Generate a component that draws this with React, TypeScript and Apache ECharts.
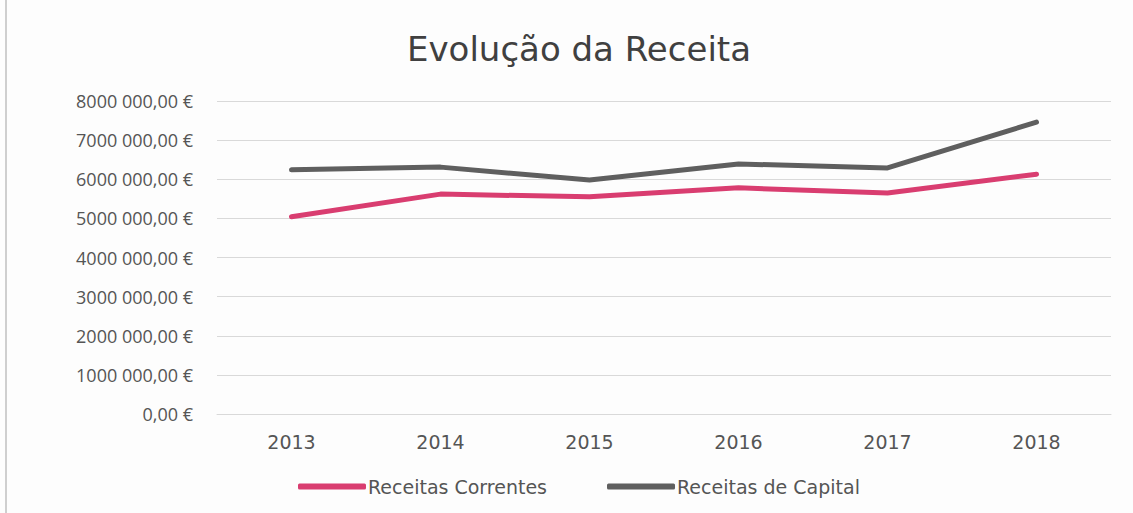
import React, { useEffect, useRef } from "react";
import * as echarts from "echarts";

const TITLE = "Evolução da Receita";
const categories = ["2013", "2014", "2015", "2016", "2017", "2018"];
const seriesNames = ["Receitas Correntes", "Receitas de Capital"];
const receitasCorrentes = [5040000, 5620000, 5550000, 5780000, 5650000, 6130000];
const receitasCapital = [6240000, 6310000, 5980000, 6390000, 6290000, 7460000];
const yTicks = [0, 1000000, 2000000, 3000000, 4000000, 5000000, 6000000, 7000000, 8000000];

function formatEuro(v: number): string {
  const s = String(Math.round(v));
  let intPart = s;
  if (s.length > 3) intPart = s.slice(0, s.length - 3) + " " + s.slice(s.length - 3);
  return intPart + ",00 €";
}

export default function App() {
  const ref = useRef<HTMLDivElement>(null);
  useEffect(() => {
    if (!ref.current) return;
    const chart = echarts.init(ref.current, null, { renderer: "svg" });
    const wide = "'DejaVu Sans', 'Open Sans', sans-serif";
    const narrow = "'Open Sans', 'DejaVu Sans', sans-serif";
    chart.setOption({
      animation: false,
      backgroundColor: "#fdfdfd",
      title: {
        text: TITLE,
        left: 402,
        top: 27,
        textStyle: { fontFamily: wide, fontSize: 34, fontWeight: "normal", color: "#404040" },
      },
      grid: { left: 217, right: 22, top: 101, bottom: 99, containLabel: false },
      legend: {
        top: 472,
        left: 293,
        itemWidth: 68,
        itemHeight: 6,
        itemGap: 60,
        icon: "roundRect",
        textStyle: { fontFamily: wide, fontSize: 19, color: "#555555", padding: [0, 0, 0, -3] },
        data: seriesNames,
      },
      xAxis: {
        type: "category",
        data: categories,
        boundaryGap: true,
        axisLine: { show: true, lineStyle: { color: "#d9d9d9", width: 1 } },
        axisTick: { show: false },
        axisLabel: { fontFamily: wide, fontSize: 19, color: "#555555", margin: 18 },
      },
      yAxis: {
        type: "value",
        min: yTicks[0],
        max: yTicks[yTicks.length - 1],
        interval: yTicks[1] - yTicks[0],
        axisLine: { show: false },
        axisTick: { show: false },
        splitLine: { lineStyle: { color: "#d9d9d9", width: 1 } },
        axisLabel: {
          fontFamily: narrow,
          fontSize: 18,
          color: "#555555",
          margin: 24,
          formatter: (v: number) => formatEuro(v),
        },
      },
      series: [
        {
          name: seriesNames[0],
          type: "line",
          data: receitasCorrentes,
          symbol: "none",
          lineStyle: { color: "#d93d70", width: 5, cap: "round", join: "round" },
          itemStyle: { color: "#d93d70" },
        },
        {
          name: seriesNames[1],
          type: "line",
          data: receitasCapital,
          symbol: "none",
          lineStyle: { color: "#5f5f5f", width: 5, cap: "round", join: "round" },
          itemStyle: { color: "#5f5f5f" },
        },
      ],
      graphic: [
        {
          type: "line",
          shape: { x1: 6, y1: 0, x2: 6, y2: 513 },
          style: { stroke: "#cfcfcf", lineWidth: 2 },
        },
      ],
    });
    return () => chart.dispose();
  }, []);
  return (
    <div
      ref={ref}
      style={{ position: "fixed", left: 0, top: 0, width: 1133, height: 513 }}
    />
  );
}
